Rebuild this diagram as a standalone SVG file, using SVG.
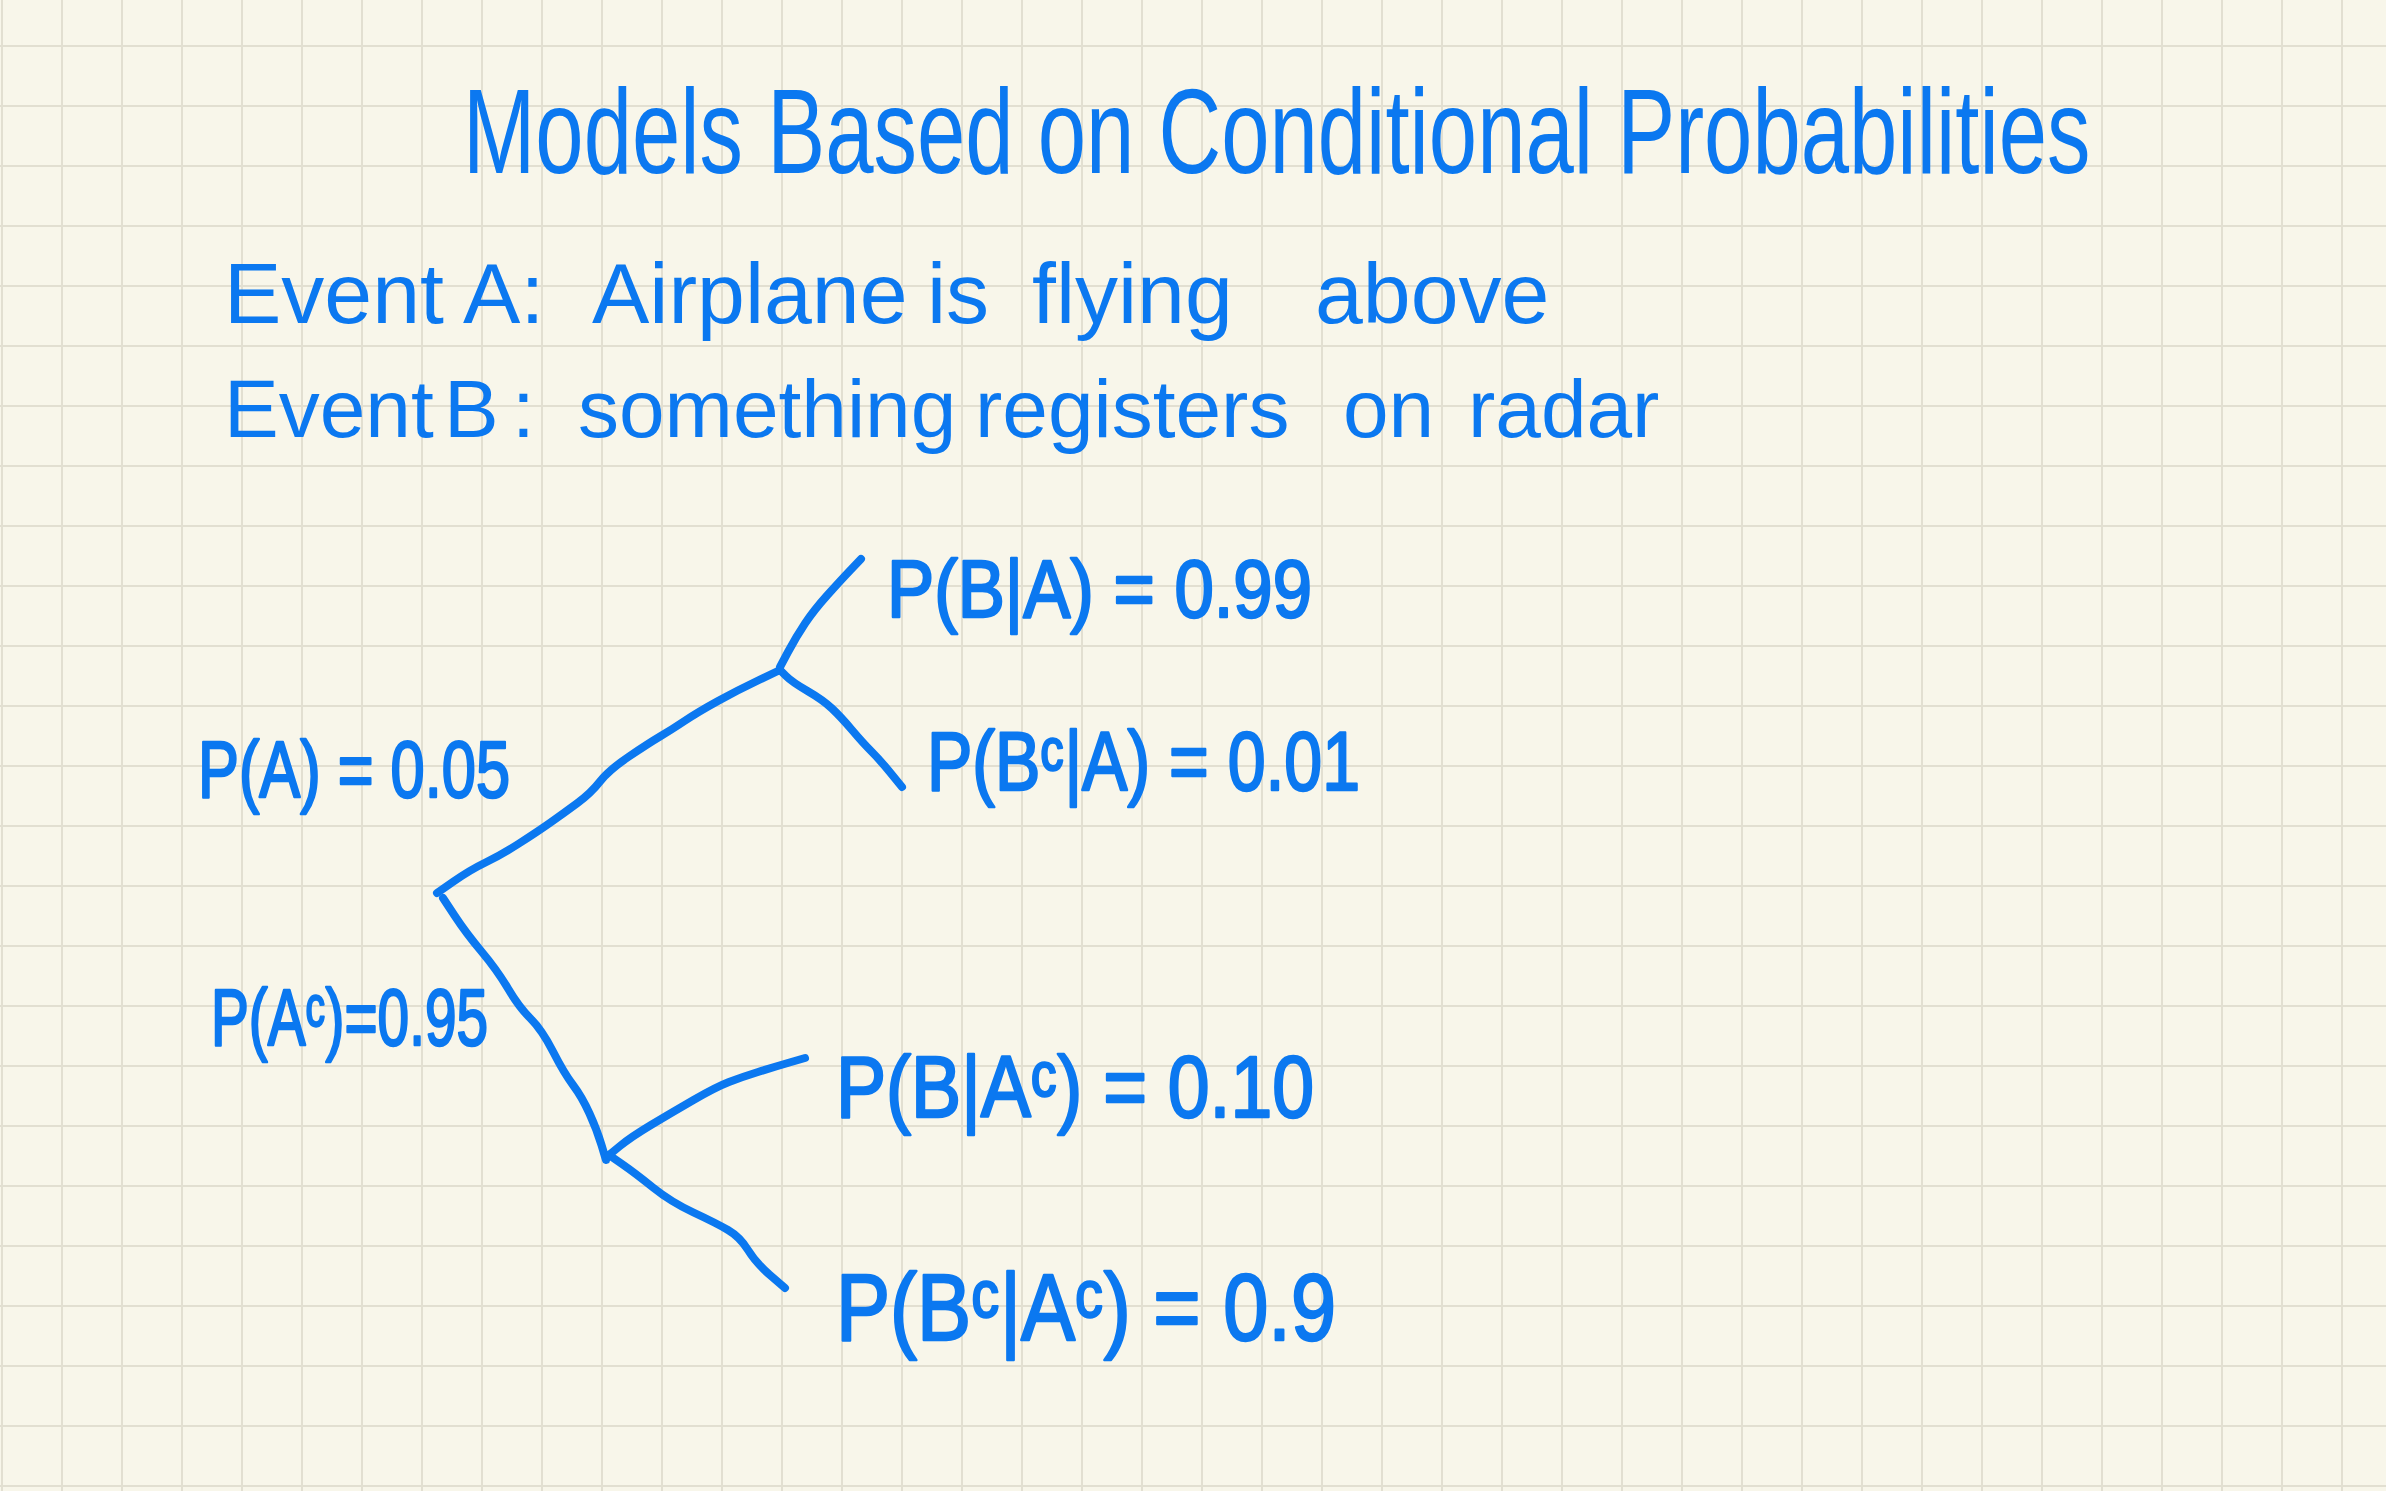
<svg xmlns="http://www.w3.org/2000/svg" width="2386" height="1491" viewBox="0 0 2386 1491">
  <defs>
    <pattern id="grid" x="1" y="45" width="60" height="60" patternUnits="userSpaceOnUse">
      <rect x="0" y="0" width="2" height="60" fill="#e2dfd1"/>
      <rect x="0" y="0" width="60" height="2" fill="#e2dfd1"/>
    </pattern>
    <style>
      .ink { fill: #0b78f0; font-family: "Liberation Sans", "DejaVu Sans", Arial, sans-serif; }
      .lbl { stroke: #0b78f0; stroke-width: 2.5; stroke-linejoin: round; }
      .branch { fill: none; stroke: #0b78f0; stroke-width: 8; stroke-linecap: round; stroke-linejoin: round; }
    </style>
  </defs>
  <rect width="2386" height="1491" fill="#f8f6ea"/>
  <rect width="2386" height="1491" fill="url(#grid)"/>

  <g id="title">
    <text class="ink" transform="translate(463,173) scale(0.724,1)" x="0" y="0" font-size="120">Models Based on Conditional Probabilities</text>
  </g>
  <g id="event-a">
    <text class="ink" y="323" font-size="86"><tspan x="224">Event A:</tspan><tspan x="592">Airplane</tspan><tspan x="927">is</tspan><tspan x="1032">flying</tspan><tspan x="1315">above</tspan></text>
  </g>
  <g id="event-b">
    <text class="ink" y="437" font-size="82"><tspan x="224">Event</tspan><tspan x="444">B</tspan><tspan x="512">:</tspan><tspan x="578">something</tspan><tspan x="975">registers</tspan><tspan x="1343">on</tspan><tspan x="1468">radar</tspan></text>
  </g>

  <g id="connectors">
    <path class="branch" d="M437,893 L453.5,881.5 Q470,870 485.5,862.5 Q501,855 519,843.5 Q537,832 550.5,822.5 Q564,813 577.5,803 Q591,793 600,781.5 Q609,770 629,756.5 Q649,743 660,736.5 Q671,730 684.5,721 Q698,712 718,701 Q738,690 759,680 L780,670"/>
    <path class="branch" d="M780,667 L788,652 Q796,637 805,623.5 Q814,610 827.5,595 Q841,580 851,569.5 L861,559"/>
    <path class="branch" d="M780,670 L786,676 Q792,682 807.5,691 Q823,700 832,708.5 Q841,717 852,730 Q863,743 871.5,751.5 Q880,760 891,773.5 L902,787"/>
    <path class="branch" d="M443,898 L454.5,915.5 Q466,933 481.5,951.5 Q497,970 508,988.5 Q519,1007 530.5,1018.5 Q542,1030 553,1051.5 Q564,1073 573,1085 Q582,1097 589.5,1113.5 Q597,1130 601.5,1145 L606,1160"/>
    <path class="branch" d="M609,1155 L620,1146 Q631,1137 651,1125 Q671,1113 693.5,1100 Q716,1087 729,1082 Q742,1077 758,1072 Q774,1067 789.5,1062.5 L805,1058"/>
    <path class="branch" d="M609,1155 L622,1164 Q635,1173 653,1187.5 Q671,1202 693.5,1212.5 Q716,1223 728,1230 Q740,1237 748,1250 Q756,1263 770.5,1275.5 L785,1288"/>
  </g>

  <g id="node-pa">
    <text class="ink lbl" x="198" y="797" font-size="80" textLength="312" lengthAdjust="spacingAndGlyphs">P(A) = 0.05</text>
  </g>
  <g id="node-pac">
    <text class="ink lbl" x="211" y="1045" font-size="80" textLength="277" lengthAdjust="spacingAndGlyphs">P(Aᶜ)=0.95</text>
  </g>
  <g id="node-pba">
    <text class="ink lbl" x="887" y="617" font-size="82" textLength="425" lengthAdjust="spacingAndGlyphs">P(B|A) = 0.99</text>
  </g>
  <g id="node-pbca">
    <text class="ink lbl" x="927" y="790" font-size="84" textLength="433" lengthAdjust="spacingAndGlyphs">P(Bᶜ|A) = 0.01</text>
  </g>
  <g id="node-pbac">
    <text class="ink lbl" x="836" y="1117" font-size="88" textLength="478" lengthAdjust="spacingAndGlyphs">P(B|Aᶜ) = 0.10</text>
  </g>
  <g id="node-pbcac">
    <text class="ink lbl" x="836" y="1340" font-size="95" textLength="500" lengthAdjust="spacingAndGlyphs">P(Bᶜ|Aᶜ) = 0.9</text>
  </g>
</svg>
